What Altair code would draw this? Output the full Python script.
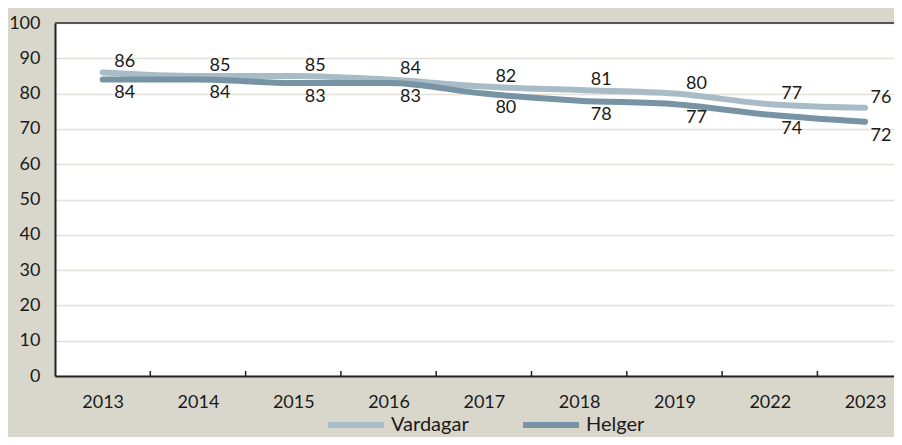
import altair as alt
import pandas as pd

years = ["2013", "2014", "2015", "2016", "2017", "2018", "2019", "2022", "2023"]
vardagar = [86, 85, 85, 84, 82, 81, 80, 77, 76]
helger = [84, 84, 83, 83, 80, 78, 77, 74, 72]
series_names = ["Vardagar", "Helger"]
series_colors = ["#A8BCC7", "#7893A3"]
y_ticks = [0, 10, 20, 30, 40, 50, 60, 70, 80, 90, 100]

idx = list(range(len(years)))
last = idx[-1]
df = pd.DataFrame(
    {"idx": idx * 2,
     "year": years * 2,
     "value": vardagar + helger,
     "series": ["Vardagar"] * len(years) + ["Helger"] * len(years)}
)
ticks_df = pd.DataFrame({"idx": idx[1:]})
top_df = pd.DataFrame({"v": [100]})

FONT = "Lato"
W, H = 839, 353
BAND = 95.3  # visual width of one year slot; the plot is cut at the right edge
x_max = W / BAND - 0.5

year_js = "[" + ",".join("'" + y + "'" for y in years) + "]"

xscale = alt.Scale(domain=[-0.5, x_max], nice=False, zero=False)
yscale = alt.Scale(domain=[0, 100], nice=False)
cscale = alt.Scale(domain=series_names, range=series_colors)

x_axis = alt.Axis(title=None, ticks=False, grid=False, domainColor="#222222", domainWidth=2,
                  values=idx, labelExpr=year_js + "[datum.value]",
                  labelFont=FONT, labelFontSize=18, labelColor="#1a1a1a", labelPadding=17,
                  labelAngle=0, labelFlush=False, labelOverlap=False)
y_axis = alt.Axis(title=None, values=y_ticks, ticks=False, domainColor="#222222", domainWidth=2,
                  labelFont=FONT, labelFontSize=18, labelColor="#1a1a1a", labelPadding=15,
                  gridColor="#E2E0D8", gridWidth=1.5, labelOverlap=False)

base = alt.Chart(df)

def line_layer(name):
    return base.transform_filter(alt.datum.series == name).mark_line(
        strokeWidth=6, strokeCap="round", interpolate="monotone"
    ).encode(
        x=alt.X("idx:Q", scale=xscale, axis=x_axis),
        y=alt.Y("value:Q", scale=yscale, axis=y_axis),
        color=alt.Color("series:N", scale=cscale, sort=series_names,
                        legend=alt.Legend(title=None, orient="none", direction="horizontal",
                                          legendX=270, legendY=371,
                                          symbolType="stroke", symbolSize=3136,
                                          symbolStrokeWidth=6, labelFont=FONT,
                                          labelFontSize=20, labelColor="#1a1a1a",
                                          labelOffset=4, columnPadding=42)),
    )

def text_layer(name, dy, is_last):
    test = (alt.datum.idx == last) if is_last else (alt.datum.idx != last)
    return base.transform_filter(alt.datum.series == name).transform_filter(test).mark_text(
        font=FONT, fontSize=18, color="#1a1a1a", dx=16 if is_last else 22, dy=dy,
        baseline="middle"
    ).encode(
        x=alt.X("idx:Q", scale=xscale, axis=x_axis),
        y=alt.Y("value:Q", scale=yscale, axis=y_axis),
        text=alt.Text("value:Q"),
    )

ticks = alt.Chart(ticks_df).transform_calculate(b="datum.idx - 0.5").mark_rule(
    color="#222222", strokeWidth=1.5
).encode(
    x=alt.X("b:Q", scale=xscale, axis=x_axis),
    y=alt.value(H - 5),
    y2=alt.value(H),
)

top_border = alt.Chart(top_df).mark_rule(color="#555555", strokeWidth=2).encode(
    y=alt.Y("v:Q", scale=yscale, axis=y_axis),
    x=alt.value(0),
    x2=alt.value(W),
)

chart = alt.layer(
    top_border,
    line_layer("Vardagar"),
    line_layer("Helger"),
    text_layer("Vardagar", -10, False),
    text_layer("Helger", 14, False),
    text_layer("Vardagar", -10, True),
    text_layer("Helger", 14, True),
    ticks,
).properties(
    width=W, height=H,
    autosize=alt.AutoSizeParams(type="none"),
    padding={"left": 47, "top": 15, "right": 0, "bottom": 61},
    background="#D9D7CC",
).configure_view(fill="white", strokeWidth=0)

chart.save("out.html", embed_options={"renderer": "svg", "actions": False})
